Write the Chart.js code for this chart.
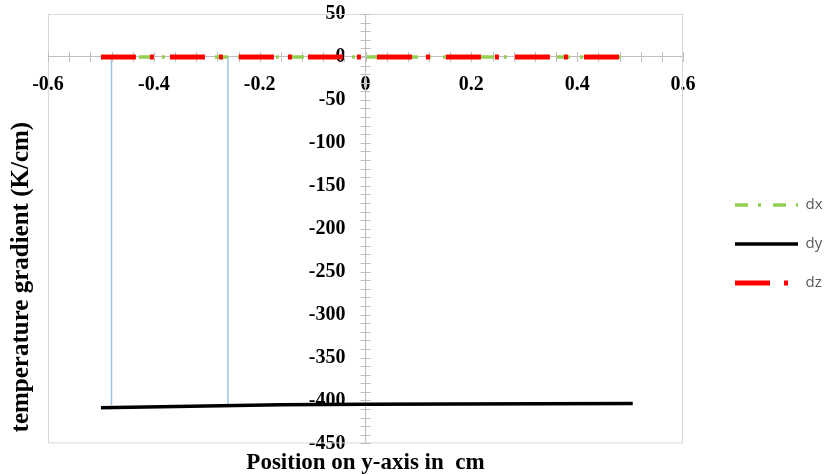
<!DOCTYPE html>
<html>
<head>
<meta charset="utf-8">
<script src="https://cdn.jsdelivr.net/npm/chart.js@4.4.1/dist/chart.umd.min.js"></script>
<style>
  html, body { margin: 0; padding: 0; background: #fff; }
  canvas { display: block; }
</style>
</head>
<body>
<canvas id="gradChart" width="827" height="474"></canvas>
<script>
// Values
const lineX = [-0.5, 0.5];
const dxValues = [0, 0];
const dzValues = [0, 0];
const dyX = [-0.5, -0.16, 0, 0.505];
const dyValues = [-408.6, -404.9, -404.3, -403.5];
const markerX = [-0.48, -0.26];
const markerBottom = [-405.5, -405];
const xTickLabels = ['-0.6', '-0.4', '-0.2', '0', '0.2', '0.4', '0.6'];
const yTickLabels = ['50', '0', '-50', '-100', '-150', '-200', '-250', '-300', '-350', '-400', '-450'];

const serif = "'Liberation Serif', 'Times New Roman', serif";

function toPoints(xs, ys) {
  return xs.map((x, i) => ({ x: x, y: ys[i] }));
}

function pickLabel(labels, value) {
  const hit = labels.find(l => Math.abs(Number(l) - value) < 1e-6);
  return hit === undefined ? '' : hit;
}

// light frame round the plot area + ticks that cross the axes
const frameAndTicks = {
  id: 'frameAndTicks',
  afterLayout(chart) {
    // the y title sits a little above the plot bottom in the original
    chart.scales.yTitle.bottom -= 11;
  },
  beforeDatasetsDraw(chart) {
    const { ctx, chartArea: a, scales } = chart;
    const x = scales.x, y = scales.y;
    ctx.save();
    ctx.strokeStyle = '#d9d9d9';
    ctx.lineWidth = 1;
    ctx.strokeRect(a.left + 0.5, a.top + 0.5, a.width - 1, a.height - 1);
    ctx.strokeStyle = '#bfbfbf';
    ctx.beginPath();
    const y0 = y.getPixelForValue(0);
    const x0 = x.getPixelForValue(0);
    x.ticks.forEach(t => {
      const px = Math.round(x.getPixelForValue(t.value)) + 0.5;
      ctx.moveTo(px, y0 - 5);
      ctx.lineTo(px, y0 + 5);
    });
    y.ticks.forEach(t => {
      const py = Math.round(y.getPixelForValue(t.value)) + 0.5;
      ctx.moveTo(x0 - 5, py);
      ctx.lineTo(x0 + 5, py);
    });
    ctx.stroke();
    ctx.restore();
  }
};

const datasets = [
  {
    label: 'dx',
    data: toPoints(lineX, dxValues),
    borderColor: '#92d050',
    borderWidth: 3.5,
    borderDash: [13, 10, 3, 12],
    order: 2
  },
  {
    label: 'dy',
    data: toPoints(dyX, dyValues),
    borderColor: '#000000',
    borderWidth: 3.5,
    order: 1
  },
  {
    label: 'dz',
    data: toPoints(lineX, dzValues),
    borderColor: '#ff0000',
    borderWidth: 5,
    borderDash: [35, 14, 4, 16],
    order: 0
  }
];

markerX.forEach((mx, i) => {
  datasets.push({
    label: 'marker' + i,
    data: toPoints([mx, mx], [0, markerBottom[i]]),
    borderColor: '#9dc3e6',
    borderWidth: 1.5,
    order: 3
  });
});

const hiddenAxis = {
  display: true,
  grid: { display: false, drawTicks: false },
  border: { display: false },
  ticks: { display: false }
};

new Chart(document.getElementById('gradChart'), {
  type: 'scatter',
  data: { datasets: datasets },
  options: {
    responsive: false,
    animation: false,
    showLine: true,
    elements: { point: { radius: 0, hoverRadius: 0 }, line: { tension: 0 } },
    layout: { padding: { top: 14, right: 0, bottom: 0, left: 0 } },
    plugins: {
      tooltip: { enabled: false },
      legend: {
        position: 'right',
        align: 'center',
        maxWidth: 116,
        labels: {
          usePointStyle: true,
          pointStyle: 'line',
          pointStyleWidth: 63,
          padding: 24,
          color: '#595959',
          font: { family: "'Open Sans', 'Liberation Sans', sans-serif", size: 15 },
          generateLabels(chart) {
            const items = Chart.defaults.plugins.legend.labels.generateLabels(chart);
            return items
              .filter(it => it.datasetIndex < 3)
              .sort((a, b) => a.datasetIndex - b.datasetIndex)
              .map(it => {
                const ds = chart.data.datasets[it.datasetIndex];
                return Object.assign({}, it, {
                  lineDash: ds.borderDash || [],
                  lineCap: 'butt',
                  lineWidth: ds.borderWidth,
                  strokeStyle: ds.borderColor,
                  textAlign: 'left'
                });
              });
          }
        }
      }
    },
    scales: {
      x: {
        type: 'linear',
        min: -0.6,
        max: 0.6,
        position: { y: 0 },
        grid: { display: false, drawTicks: false },
        border: { color: '#bfbfbf', width: 1 },
        ticks: {
          stepSize: 0.04,
          autoSkip: false,
          maxRotation: 0,
          padding: 16,
          color: '#000',
          font: { family: serif, size: 20, weight: 'bold' },
          callback: v => pickLabel(xTickLabels, v)
        }
      },
      y: {
        type: 'linear',
        min: -450,
        max: 50,
        position: { x: 0 },
        z: 1,
        grid: { display: false, drawTicks: false },
        border: { color: '#bfbfbf', width: 1 },
        ticks: {
          stepSize: 10,
          autoSkip: false,
          padding: 0,
          color: '#000',
          font: { family: serif, size: 20, weight: 'bold' },
          // labels sit a gap to the left of the axis
          callback: v => {
            const l = pickLabel(yTickLabels, v);
            return l === '' ? '' : l + '\u2003';
          }
        }
      },
      xTitle: Object.assign({}, hiddenAxis, {
        type: 'linear',
        position: 'bottom',
        title: {
          display: true,
          text: 'Position on y-axis in  cm',
          color: '#000',
          font: { family: serif, size: 23, weight: 'bold' },
          padding: { top: 6, bottom: -3 }
        }
      }),
      yTitle: Object.assign({}, hiddenAxis, {
        type: 'linear',
        position: 'left',
        title: {
          display: true,
          text: 'temperature gradient (K/cm)',
          align: 'start',
          color: '#000',
          font: { family: serif, size: 25, weight: 'bold' },
          padding: { top: 7, bottom: 11 }
        }
      }),
      gap: Object.assign({}, hiddenAxis, {
        type: 'linear',
        position: 'right',
        afterFit(scale) { scale.width = 28; }
      })
    }
  },
  plugins: [frameAndTicks]
});
</script>
</body>
</html>
